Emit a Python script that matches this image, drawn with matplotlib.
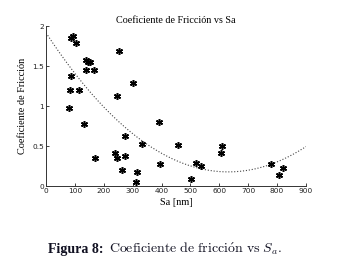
"""Coeficiente de friccion vs Sa - scatter with quadratic trend to out.png."""
import matplotlib
matplotlib.use("Agg")
import matplotlib.pyplot as plt
import numpy as np

# Sa [nm] and friction coefficient
sa = [81, 84, 86, 88, 93, 104, 114, 130, 137, 138, 147, 152, 166, 168,
      239, 245, 245, 251, 263, 273, 273, 302, 311, 315, 333, 391, 395,
      458, 502, 519, 535, 606, 608, 778, 805, 821]
mu = [0.98, 1.20, 1.38, 1.85, 1.88, 1.79, 1.20, 0.78, 1.45, 1.58, 1.55,
      1.55, 1.45, 0.35, 0.41, 0.35, 1.12, 1.69, 0.20, 0.625, 0.37, 1.29,
      0.05, 0.175, 0.525, 0.80, 0.27, 0.51, 0.09, 0.29, 0.25, 0.41, 0.50,
      0.28, 0.14, 0.23]
x_ticks = [0, 100, 200, 300, 400, 500, 600, 700, 800, 900]
y_ticks = [0, 0.5, 1, 1.5, 2]

plt.rcParams["mathtext.fontset"] = "cm"
SERIF = "Liberation Serif"

fig = plt.figure(figsize=(3.4, 2.79), dpi=100)
ax = fig.add_axes([0.1353, 0.3333, 0.7647, 0.5735])

coef = np.polyfit(sa, mu, 2)
xs = np.linspace(0, 900, 200)
ax.plot(xs, np.polyval(coef, xs), ls=":", color="#444444", lw=0.8)
ax.plot(sa, mu, ls="none", marker=(6, 2, 0), ms=5, mew=1.1, color="black")

ax.set_xlim(0, 900); ax.set_ylim(0, 2)
ax.set_xticks(x_ticks); ax.set_yticks(y_ticks)
ax.set_yticklabels(["0", "0.5", "1", "1.5", "2"])
ax.tick_params(direction="in", length=2.5, width=0.6, labelsize=5.3,
               pad=1.5, colors="#222222")
for s in ("top", "right"):
    ax.spines[s].set_visible(False)
for s in ("left", "bottom"):
    ax.spines[s].set_linewidth(0.7); ax.spines[s].set_color("#333333")

ax.set_title("Coeficiente de Fricción vs Sa", family=SERIF, fontsize=7.3, pad=2)
ax.set_xlabel("Sa [nm]", family=SERIF, fontsize=7.4, labelpad=3)
ax.set_ylabel("Coeficiente de Fricción", family=SERIF, fontsize=7.4, labelpad=4)

# caption: bold label + computer-modern body
fig.text(48 / 340, 0.107, "Figura 8:", family=SERIF, weight="bold",
         fontsize=10, ha="left", va="center", color="#111122")
fig.text(109 / 340, 0.107,
         r"$\mathrm{Coeficiente\ de\ fricci\acute{o}n\ vs}\ S_a.$",
         fontsize=10, ha="left", va="center", color="#111122")

fig.savefig("out.png", dpi=100)
plt.close(fig)
